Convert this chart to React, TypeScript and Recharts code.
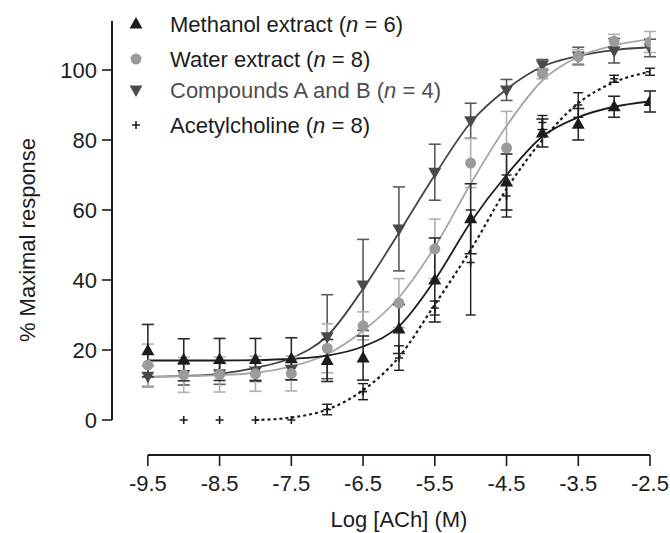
import {
  ComposedChart,
  Line,
  Scatter,
  XAxis,
  YAxis,
  ErrorBar,
  ReferenceLine,
  Legend,
} from "recharts";

const FONT = "'Liberation Sans', Arial, Helvetica, sans-serif";
const INK = "#1c1c1c";
const FS = 22;

// log [ACh] concentrations used for the three extracts / compounds
const logConc = [-9.5, -9, -8.5, -8, -7.5, -7, -6.5, -6, -5.5, -5, -4.5, -4, -3.5, -3, -2.5];

const methanolMean = [19.8, 17.2, 17.3, 17.3, 17.5, 17.0, 17.7, 26.0, 40.0, 57.5, 68.0, 82.0, 84.5, 89.5, 91.0];
const methanolSem = [7.5, 6, 6, 6, 6, 6, 6.3, 7, 12, 10, 8, 4, 4.5, 3, 3];

const waterMean = [15.7, 12.9, 13.0, 13.2, 13.3, 20.5, 26.9, 33.4, 48.9, 73.4, 77.7, 99.0, 103.8, 108.2, 108.0];
const waterSem = [6, 5, 5, 5, 5, 7, 4, 7, 8.5, 7, 10.5, 1.5, 2, 2, 3];

const compoundsMean = [12.5, 13.0, 13.2, 14.0, 14.5, 23.8, 38.6, 54.6, 70.8, 85.5, 94.3, 101.5, 104.0, 105.5, 106.3];
const compoundsSem = [3, 3, 3, 3, 3, 12, 13, 12, 8, 5, 3, 1.5, 2.5, 3.5, 2.5];

// acetylcholine has no point at -9.5
const achConc = [-9, -8.5, -8, -7.5, -7, -6.5, -6, -5.5, -5, -4.5, -4, -3.5, -3, -2.5];
const achMean = [0, 0, 0, 0, 3.0, 8.1, 17.7, 32.0, 45.0, 64.0, 85.0, 90.0, 97.5, 99.5];
const achSem = [0, 0, 0, 0, 1.5, 2.3, 3.5, 2, 15, 6, 2, 3.5, 1, 1];

// fitted curves, every half log unit
const fitX = [-9.5, -9, -8.5, -8, -7.5, -7, -6.5, -6, -5.5, -5, -4.5, -4, -3.5, -3, -2.5];
const methanolFit = [17.0, 17.0, 17.0, 17.1, 17.5, 18.4, 21.0, 26.8, 40.0, 56.5, 70.0, 81.0, 86.5, 89.5, 91.0];
const waterFit = [12.3, 12.5, 12.8, 13.5, 15.3, 18.8, 25.5, 35.0, 49.5, 67.5, 84.0, 97.0, 103.8, 107.0, 108.8];
const compoundsFit = [12.3, 12.6, 13.2, 14.9, 17.7, 24.0, 37.5, 53.5, 70.0, 85.0, 94.5, 101.0, 104.0, 105.7, 106.5];
const achFitX = [-8, -7.5, -7, -6.5, -6, -5.5, -5, -4.5, -4, -3.5, -3, -2.5];
const achFit = [0.0, 0.7, 3.0, 8.5, 18.0, 33.0, 48.6, 66.0, 80.0, 90.5, 96.5, 99.5];

const xTicks = [-9.5, -8.5, -7.5, -6.5, -5.5, -4.5, -3.5, -2.5];
const yTicks = [0, 20, 40, 60, 80, 100];

const pts = (xs: number[], ys: number[], es?: number[]) =>
  xs.map((x, i) => ({ x, y: ys[i], err: es ? es[i] : 0 }));

const triUp = (fill: string) => (p: any) => (
  <path d={`M${p.cx},${p.cy - 7}L${p.cx + 6.5},${p.cy + 4.5}L${p.cx - 6.5},${p.cy + 4.5}Z`} fill={fill} />
);
const triDown = (fill: string) => (p: any) => (
  <path d={`M${p.cx},${p.cy + 7}L${p.cx + 6.5},${p.cy - 4.5}L${p.cx - 6.5},${p.cy - 4.5}Z`} fill={fill} />
);
const dotShape = (fill: string) => (p: any) => <circle cx={p.cx} cy={p.cy} r={5.5} fill={fill} />;
const plusShape = (stroke: string) => (p: any) => (
  <path d={`M${p.cx - 4},${p.cy}H${p.cx + 4}M${p.cx},${p.cy - 4}V${p.cy + 4}`} stroke={stroke} strokeWidth={1.6} />
);

const legendRows = [
  { label: "Methanol extract", n: 6, color: INK, marker: triUp(INK), y: 24 },
  { label: "Water extract", n: 8, color: INK, marker: dotShape("#9b9b9b"), y: 59 },
  { label: "Compounds A and B", n: 4, color: "#4e4e4e", marker: triDown("#4a4a4a"), y: 90 },
  { label: "Acetylcholine", n: 8, color: INK, marker: plusShape(INK), y: 125 },
];

function LegendBox() {
  return (
    <svg width={540} height={145} style={{ display: "block" }}>
      {legendRows.map((r) => (
        <g key={r.label}>
          {r.marker({ cx: 136, cy: r.y })}
          <text x={170} y={r.y + 8} fontSize={FS} fontFamily={FONT} fill={r.color}>
            {r.label} (<tspan fontStyle="italic">n</tspan> = {r.n})
          </text>
        </g>
      ))}
    </svg>
  );
}

export default function App() {
  return (
    <div style={{ position: "absolute", left: 0, top: 0 }}>
      <ComposedChart
        width={670}
        height={533}
        margin={{ top: 21, right: 20, bottom: 0, left: 0 }}
        style={{ fontFamily: FONT }}
      >
        <XAxis
          dataKey="x"
          type="number"
          domain={[-10, -2.5]}
          ticks={xTicks}
          allowDataOverflow
          height={78}
          axisLine={false}
          tickSize={11}
          tickMargin={9}
          tickLine={{ stroke: INK, strokeWidth: 1.6 }}
          tick={{ fill: INK, fontSize: FS, fontFamily: FONT }}
          label={{
            content: (props: any) => {
              const vb = props.viewBox;
              return (
                <text
                  x={vb.x + (vb.width * 4) / 7.5}
                  y={527}
                  textAnchor="middle"
                  fontSize={FS}
                  fontFamily={FONT}
                  fill={INK}
                >
                  Log [ACh] (M)
                </text>
              );
            },
          }}
        />
        <YAxis
          type="number"
          domain={[-10, 114]}
          ticks={yTicks}
          allowDataOverflow
          width={112}
          axisLine={false}
          tickSize={10}
          tickMargin={5}
          tickLine={{ stroke: INK, strokeWidth: 1.6 }}
          tick={{ fill: INK, fontSize: FS, fontFamily: FONT }}
          label={{
            content: () => (
              <text
                x={0}
                y={0}
                transform="translate(35, 240) rotate(-90)"
                textAnchor="middle"
                fontSize={FS}
                fontFamily={FONT}
                fill={INK}
              >
                % Maximal response
              </text>
            ),
          }}
        />
        <ReferenceLine
          segment={[{ x: -10, y: 0 }, { x: -10, y: 114 }]}
          stroke={INK}
          strokeWidth={2}
        />
        <ReferenceLine
          segment={[{ x: -9.5, y: -10 }, { x: -2.5, y: -10 }]}
          stroke={INK}
          strokeWidth={2}
        />
        <Legend
          layout="horizontal"
          verticalAlign="middle"
          align="center"
          wrapperStyle={{ top: 0, left: 0, width: 540, height: 145 }}
          content={() => <LegendBox />}
        />

        <Line data={pts(fitX, compoundsFit)} dataKey="y" type="monotone" dot={false} activeDot={false}
          stroke="#444" strokeWidth={1.8} isAnimationActive={false} legendType="none" />
        <Line data={pts(fitX, waterFit)} dataKey="y" type="monotone" dot={false} activeDot={false}
          stroke="#a6a6a6" strokeWidth={1.8} isAnimationActive={false} legendType="none" />
        <Line data={pts(fitX, methanolFit)} dataKey="y" type="monotone" dot={false} activeDot={false}
          stroke={INK} strokeWidth={1.8} isAnimationActive={false} legendType="none" />
        <Line data={pts(achFitX, achFit)} dataKey="y" type="monotone" dot={false} activeDot={false}
          stroke={INK} strokeWidth={2.2} strokeDasharray="3 3" isAnimationActive={false} legendType="none" />

        <Scatter data={pts(logConc, compoundsMean, compoundsSem)} dataKey="y" shape={triDown("#4a4a4a")}
          isAnimationActive={false}>
          <ErrorBar dataKey="err" direction="y" width={6} stroke="#5a5a5a" strokeWidth={1.6} />
        </Scatter>
        <Scatter data={pts(logConc, waterMean, waterSem)} dataKey="y" shape={dotShape("#9b9b9b")}
          isAnimationActive={false}>
          <ErrorBar dataKey="err" direction="y" width={6} stroke="#b0b0b0" strokeWidth={1.6} />
        </Scatter>
        <Scatter data={pts(logConc, methanolMean, methanolSem)} dataKey="y" shape={triUp(INK)}
          isAnimationActive={false}>
          <ErrorBar dataKey="err" direction="y" width={6} stroke="#2a2a2a" strokeWidth={1.6} />
        </Scatter>
        <Scatter data={pts(achConc, achMean, achSem)} dataKey="y" shape={plusShape(INK)}
          isAnimationActive={false}>
          <ErrorBar dataKey="err" direction="y" width={5} stroke={INK} strokeWidth={1.4} />
        </Scatter>
      </ComposedChart>
    </div>
  );
}
